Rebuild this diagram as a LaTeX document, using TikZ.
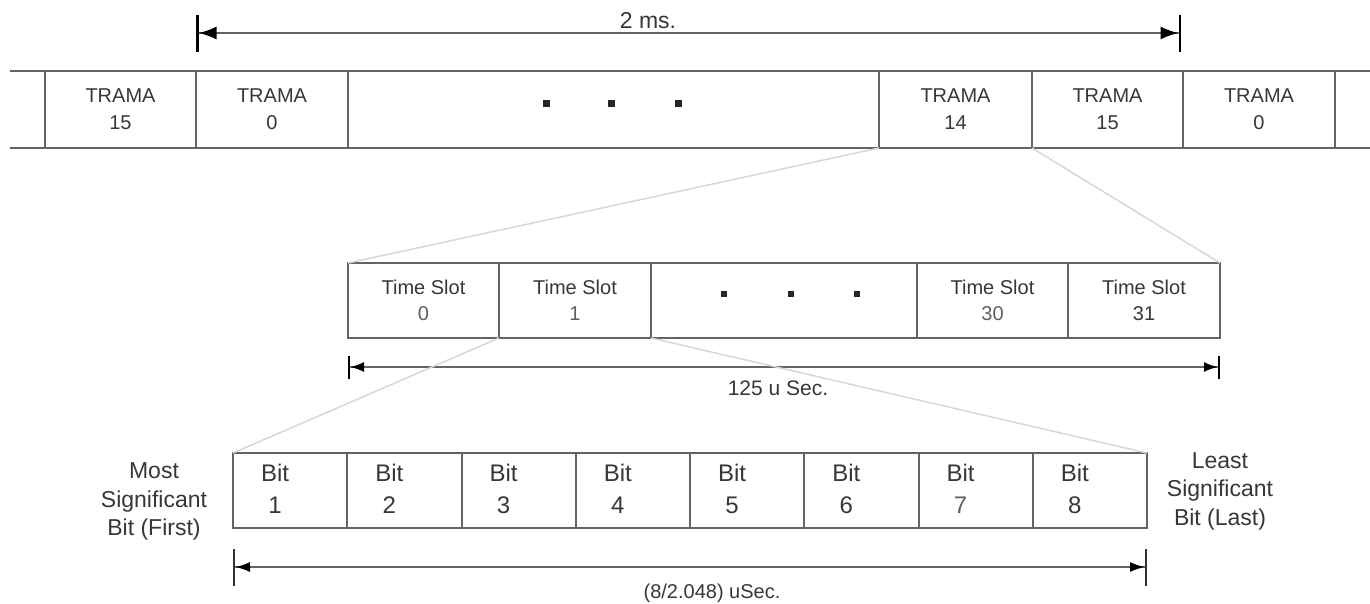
\documentclass[tikz,border=0pt]{standalone}
\usepackage{fontspec}
\setmainfont{Liberation Sans}
\usepackage{tikz}
\usetikzlibrary{arrows.meta, positioning}
\definecolor{BoxGray}{RGB}{100,100,100}
\definecolor{TxtGray}{RGB}{55,55,55}
\definecolor{NumGray}{RGB}{95,95,95}
\definecolor{ZoomGray}{RGB}{215,215,215}

\begin{document}
\begin{tikzpicture}[x=1pt, y=-1pt,
    frame/.style={rectangle, draw=BoxGray, line width=2pt, minimum height=77pt,
                  inner sep=0pt, outer sep=0pt, align=center, text=TxtGray,
                  font=\fontsize{20}{27}\selectfont},
    slot/.style={rectangle, draw=BoxGray, line width=2pt, minimum height=75pt,
                 inner sep=0pt, outer sep=0pt, align=center, text=TxtGray,
                 font=\fontsize{20}{26}\selectfont},
    bitcell/.style={rectangle, draw=BoxGray, line width=2pt, minimum width=114.25pt,
                    minimum height=75pt, inner sep=0pt, outer sep=0pt},
    bittxt/.style={align=center, text=TxtGray, inner sep=0pt,
                   font=\fontsize{24}{32}\selectfont},
    side/.style={align=center, text=TxtGray, inner sep=0pt,
                 font=\fontsize{23}{28.5}\selectfont},
    lbl/.style={text=TxtGray, inner sep=0pt, font=\fontsize{20}{24}\selectfont},
    dot/.style={rectangle, fill=black!85, inner sep=0pt, minimum size=7pt},
    zoomline/.style={ZoomGray, line width=1.5pt},
    rowline/.style={BoxGray, line width=2pt}
  ]
  \useasboundingbox (0,0) rectangle (1370,603);

  % frame row
  \node[frame, minimum width=151pt] (t15a) at (120.5,109.5) {TRAMA\\15};
  \node[frame, minimum width=152pt] (t0a)  at (272,109.5)   {TRAMA\\0};
  \node[frame, minimum width=531pt] (tdots) at (613.5,109.5) {};
  \node[frame, minimum width=153pt] (t14)  at (955.5,109.5) {TRAMA\\14};
  \node[frame, minimum width=151pt] (t15b) at (1107.5,109.5) {TRAMA\\15};
  \node[frame, minimum width=152pt] (t0b)  at (1259,109.5)  {TRAMA\\0};
  \node[dot] (td1) at (546,103) {};
  \node[dot] (td2) at (611,103) {};
  \node[dot] (td3) at (678,103) {};
  % open ends of the row
  \coordinate (ltop) at (10,71);
  \coordinate (lbot) at (10,148);
  \coordinate (rtop) at (1370,71);
  \coordinate (rbot) at (1370,148);
  \draw[rowline] (ltop) -- (t15a.north west);
  \draw[rowline] (lbot) -- (t15a.south west);
  \draw[rowline] (t0b.north east) -- (rtop);
  \draw[rowline] (t0b.south east) -- (rbot);

  % 2 ms
  \coordinate (msL) at (196,33);
  \coordinate (msR) at (1181,33);
  \draw[BoxGray, line width=2pt,
        {Bar[width=37pt,line width=2.5pt,color=black]Latex[length=18pt,width=13pt,color=black]}-{Latex[length=18pt,width=13pt,color=black]Bar[width=37pt,line width=2.5pt,color=black]}]
        (msL) -- (msR);
  \node[lbl, font=\fontsize{23}{26}\selectfont] (ms) at (648,21) {2 ms.};

  % time slot row
  \node[slot, minimum width=151pt] (s0)  at (423.5,300.5) {Time Slot\\\textcolor{NumGray}{0}};
  \node[slot, minimum width=152pt] (s1)  at (575,300.5)   {Time Slot\\\textcolor{NumGray}{1}};
  \node[slot, minimum width=266pt] (sdots) at (784,300.5) {};
  \node[slot, minimum width=151pt] (s30) at (992.5,300.5) {Time Slot\\\textcolor{NumGray}{30}};
  \node[slot, minimum width=152pt] (s31) at (1144,300.5)  {Time Slot\\31};
  \node[dot, minimum size=6.5pt] (sd1) at (724,294) {};
  \node[dot, minimum size=6.5pt] (sd2) at (791,294) {};
  \node[dot, minimum size=6.5pt] (sd3) at (857,294) {};

  % zoom lines frame -> slots
  \draw[zoomline] (t14.south west) -- (s0.north west);
  \draw[zoomline] (t14.south east) -- (s31.north east);

  % 125 u Sec
  \coordinate (usL) at (348,367);
  \coordinate (usR) at (1220,367);
  \draw[BoxGray, line width=2pt,
        {Bar[width=23pt,line width=2pt,color=black]Latex[length=14pt,width=10pt,color=black]}-{Latex[length=14pt,width=10pt,color=black]Bar[width=23pt,line width=2pt,color=black]}]
        (usL) -- (usR);
  \node[lbl, font=\fontsize{21}{24}\selectfont] (us) at (778,388) {125 u Sec.};

  % bit row
  \node[bitcell] (b1) at (290.125,490.5) {};
  \node[bitcell] (b2) at (404.375,490.5) {};
  \node[bitcell] (b3) at (518.625,490.5) {};
  \node[bitcell] (b4) at (632.875,490.5) {};
  \node[bitcell] (b5) at (747.125,490.5) {};
  \node[bitcell] (b6) at (861.375,490.5) {};
  \node[bitcell] (b7) at (975.625,490.5) {};
  \node[bitcell] (b8) at (1089.875,490.5) {};
  \node[bittxt] (bt1) at ([xshift=-15pt, yshift=1.5pt]b1.center) {Bit\\1};
  \node[bittxt] (bt2) at ([xshift=-15pt, yshift=1.5pt]b2.center) {Bit\\2};
  \node[bittxt] (bt3) at ([xshift=-15pt, yshift=1.5pt]b3.center) {Bit\\3};
  \node[bittxt] (bt4) at ([xshift=-15pt, yshift=1.5pt]b4.center) {Bit\\4};
  \node[bittxt] (bt5) at ([xshift=-15pt, yshift=1.5pt]b5.center) {Bit\\5};
  \node[bittxt] (bt6) at ([xshift=-15pt, yshift=1.5pt]b6.center) {Bit\\6};
  \node[bittxt] (bt7) at ([xshift=-15pt, yshift=1.5pt]b7.center) {Bit\\\textcolor{NumGray}{7}};
  \node[bittxt] (bt8) at ([xshift=-15pt, yshift=1.5pt]b8.center) {Bit\\8};

  \node[side] (msb) at (154,501.5) {Most\\Significant\\Bit (First)};
  \node[side] (lsb) at (1220,491)  {Least\\Significant\\Bit (Last)};

  % zoom lines slot -> bits
  \draw[zoomline] (s1.south west) -- (b1.north west);
  \draw[zoomline] (s1.south east) -- (b8.north east);

  % (8/2.048) uSec
  \coordinate (bsL) at (233,567);
  \coordinate (bsR) at (1147,567);
  \draw[BoxGray, line width=2pt,
        {Bar[width=37pt,line width=2pt,color=black!80]Latex[length=15pt,width=10pt,color=black]}-{Latex[length=15pt,width=10pt,color=black]Bar[width=37pt,line width=2pt,color=black!80]}]
        (bsL) -- (bsR);
  \node[lbl] (bs) at (712,593) {(8/2.048) uSec.};
\end{tikzpicture}
\end{document}
